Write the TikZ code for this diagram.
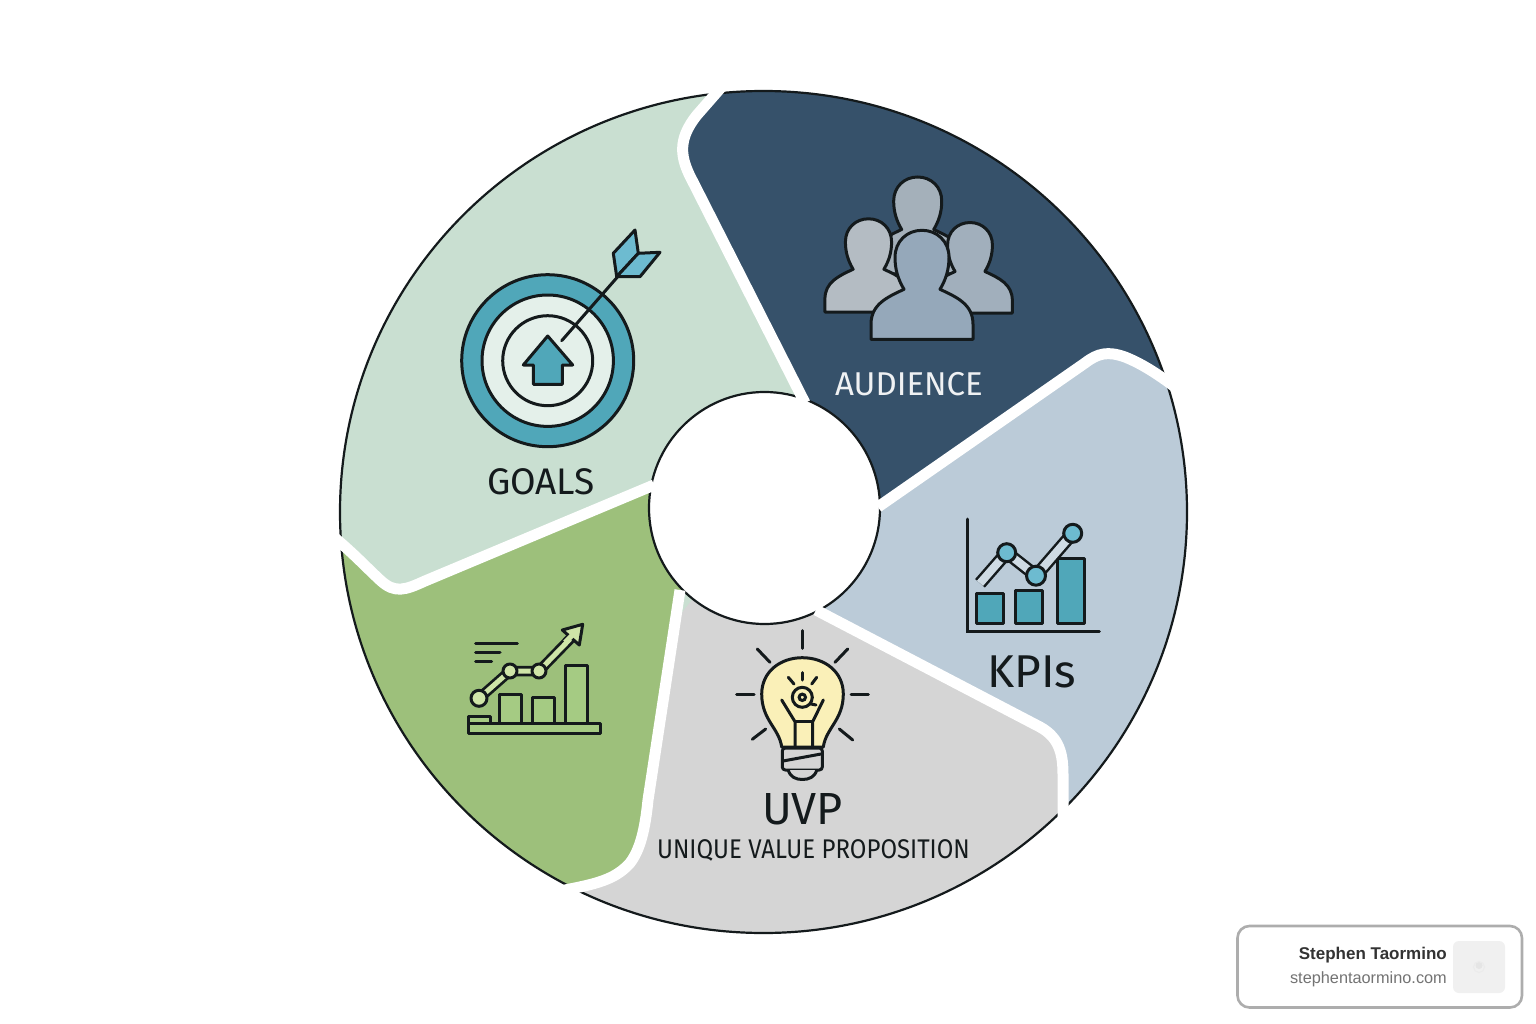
\documentclass[tikz,border=0pt]{standalone}
\usepackage{fontspec}
\setmainfont{Fira Sans}
\newfontfamily\cardfont{Liberation Sans}
\newfontfamily\narrowfont[FakeStretch=0.89]{Fira Sans}
\definecolor{goalsc}{HTML}{C9DFD1}
\definecolor{audc}{HTML}{36516A}
\definecolor{kpic}{HTML}{BBCBD8}
\definecolor{uvpc}{HTML}{D5D5D5}
\definecolor{greenc}{HTML}{9DC07B}
\definecolor{teal}{HTML}{50A7B9}
\definecolor{lteal}{HTML}{6DBBD0}
\definecolor{ink}{HTML}{141A1C}
\definecolor{paleg}{HTML}{E4F0EA}
\definecolor{bulbc}{HTML}{FAF0B8}
\definecolor{grnfill}{HTML}{A5CB83}
\definecolor{grnline}{HTML}{CFE5A8}
\definecolor{persona}{HTML}{A4B0BA}
\definecolor{personb}{HTML}{B4BCC3}
\definecolor{personc}{HTML}{A1AFBC}
\definecolor{persond}{HTML}{95A8BA}
\tikzset{
  icon/.style={draw=ink,line width=3pt,line join=round},
  iconline/.style={draw=ink,line width=3pt,line cap=round},
  sep/.style={draw=white,line width=11pt,line join=round},
  lab/.style={inner sep=0pt,text=ink,anchor=center},
}
\newcommand\SOne{(805,403) -- (693,182) .. controls (680,158) and (677,140) .. (697,115) -- (725,83)}
\newcommand\STwo{(878,507) -- (1085,363) .. controls (1098,353) and (1108,351) .. (1125,357) .. controls (1140,363) and (1155,372) .. (1175,387)}
\newcommand\SThree{(816,610) -- (1040,727) .. controls (1060,738) and (1063,755) .. (1063,775) -- (1063,820)}
\newcommand\SFour{(680,590) -- (648,800) .. controls (645,830) and (640,850) .. (630,863) .. controls (615,880) and (595,884) .. (565,890)}
\newcommand\SFive{(654,485) -- (425,581) .. controls (405,590) and (395,594) .. (380,580) .. controls (365,566) and (355,555) .. (335,538)}
\newcommand\peopleicon[4]{\draw[icon,fill=#4,shift={(#1,#2)},scale=#3]
  (-51,0) -- (-51,-15) .. controls (-51,-35) and (-35,-42) .. (-18,-50)
  .. controls (-24,-60) and (-27,-70) .. (-27,-82)
  .. controls (-27,-98) and (-15,-109) .. (0,-109)
  .. controls (15,-109) and (27,-98) .. (27,-82)
  .. controls (27,-70) and (24,-60) .. (18,-50)
  .. controls (35,-42) and (51,-35) .. (51,-15) -- (51,0) -- cycle;}
\begin{document}
\begin{tikzpicture}[x=1pt,y=-1pt]
\path[use as bounding box,fill=white] (0,0) rectangle (1536,1024);
% wheel
\begin{scope}
\clip (763.5,512) ellipse [x radius=423.5pt,y radius=421pt];
\fill[goalsc] (300,50) rectangle (1250,980);
\fill[audc] (764,508) -- \SOne -- (1300,80) -- (1300,560) -- cycle;
\fill[kpic] (764,508) -- \STwo -- (1400,400) -- (1400,1100) -- (900,1100) -- cycle;
\fill[uvpc] (764,508) -- \SThree -- (1063,1100) -- (300,1100) -- cycle;
\fill[greenc] (764,508) -- \SFour -- (300,1000) -- (200,600) -- (335,538)
  .. controls (355,555) and (365,566) .. (380,580)
  .. controls (395,594) and (405,590) .. (425,581) -- (654,485) -- cycle;
\end{scope}
\draw[ink,line width=2.2pt] (763.5,512) ellipse [x radius=423.5pt,y radius=421pt];
\draw[ink,line width=2.2pt,fill=white] (764.5,508) ellipse [x radius=115.5pt,y radius=116pt];
\draw[sep] \SOne;
\draw[sep] \STwo;
\draw[sep] \SThree;
\draw[sep] \SFour;
\draw[sep] \SFive;
% target
\draw[icon,fill=teal] (547.7,360.7) circle [radius=86pt];
\draw[icon,fill=paleg] (547.7,360.7) circle [radius=65.7pt];
\draw[icon,fill=paleg] (547.7,360.7) circle [radius=45pt];
\draw[icon,fill=teal] (547.7,336) -- (572.7,365) -- (562.3,365) -- (562.3,384.3) -- (533.3,384.3) -- (533.3,365) -- (523.3,365) -- cycle;
\draw[iconline] (561.7,340.7) -- (636.7,255);
\draw[icon,fill=lteal] (635,230) -- (638.3,253.3) -- (616.7,276.7) -- (613.3,253.3) -- cycle;
\draw[icon,fill=lteal] (660,252.3) -- (640,276.7) -- (616.7,276.7) -- (638.3,253.3) -- cycle;
% people
\peopleicon{917.7}{274}{0.89}{persona}
\peopleicon{868.5}{312}{0.855}{personb}
\peopleicon{970}{313}{0.83}{personc}
\peopleicon{922}{339.3}{1}{persond}
% KPI chart
\draw[iconline] (967.3,519) -- (967.3,631.7) -- (1099.3,631.7);
\draw[icon,fill=teal] (976,593.3) rectangle (1003.3,623.3);
\draw[icon,fill=teal] (1015.7,590.7) rectangle (1042.7,623.3);
\draw[icon,fill=teal] (1057.3,558.3) rectangle (1084.3,623.3);
\draw[draw=ink,line width=13pt,line join=round] (980,583.3) -- (1006.7,552.7) -- (1036,575.7) -- (1072.7,533.3);
\draw[draw=kpic!70!white,line width=8pt,line join=round] (980,583.3) -- (1006.7,552.7) -- (1036,575.7) -- (1072.7,533.3);
\draw[icon,fill=lteal] (1006.7,552.7) circle [radius=9pt];
\draw[icon,fill=lteal] (1036,575.7) circle [radius=9.5pt];
\draw[icon,fill=lteal] (1072.7,533.3) circle [radius=9pt];
% bulb
\draw[icon,fill=bulbc] (781.7,747) .. controls (779,728) and (761.7,720) .. (761.7,694)
  .. controls (761.7,672) and (780,657.7) .. (802.3,657.7)
  .. controls (825,657.7) and (843.3,672) .. (843.3,694)
  .. controls (843.3,720) and (826,728) .. (823.3,747) -- cycle;
\draw[iconline] (781.7,700) -- (795,721.7) -- (795,747);
\draw[iconline] (823.3,700) -- (812.7,721.7) -- (812.7,747);
\draw[iconline] (795,721.7) -- (812.7,721.7);
\draw[iconline,fill=bulbc] (802.3,697.3) circle [radius=10pt];
\draw[iconline] (802.3,697.3) circle [radius=3.2pt];
\draw[iconline] (811,704) -- (816,705);
\draw[iconline] (802.3,672.7) -- (802.3,680);
\draw[iconline] (788.3,677.3) -- (794,684);
\draw[iconline] (816.7,677.3) -- (811.7,684);
\draw[icon,fill=uvpc,rounded corners=3pt] (782.3,748) rectangle (822.3,770);
\draw[iconline] (783,761) -- (821,754);
\draw[icon,fill=uvpc] (788.3,770) .. controls (790,777) and (796,779.5) .. (802.3,779.5) .. controls (809,779.5) and (815,777) .. (816.7,770);
\draw[iconline] (802.3,630.7) -- (802.3,648.3);
\draw[iconline] (757.3,649) -- (770,662.3);
\draw[iconline] (847.7,649) -- (835,662.3);
\draw[iconline] (736.7,694) -- (754,694);
\draw[iconline] (851,694) -- (868.3,694);
\draw[iconline] (752.3,739.3) -- (765.7,729);
\draw[iconline] (852.7,740) -- (839.3,729);
% growth chart
\draw[iconline] (475.7,643.3) -- (517.3,643.3);
\draw[iconline] (475.7,652.3) -- (500,652.3);
\draw[iconline] (475.7,661.3) -- (491.7,661.3);
\draw[icon,fill=grnfill] (468.3,716.7) rectangle (490,723.3);
\draw[icon,fill=grnfill] (499.3,694) rectangle (521.7,723.3);
\draw[icon,fill=grnfill] (532.3,697.7) rectangle (554.3,723.3);
\draw[icon,fill=grnfill] (565.7,665) rectangle (587.7,723.3);
\draw[icon,fill=grnfill] (468.3,723.3) rectangle (600,733.3);
\draw[draw=ink,line width=10.5pt,line join=round] (479,698.3) -- (510,671) -- (539,671) -- (572,637);
\draw[draw=grnline,line width=5pt,line join=round] (479,698.3) -- (510,671) -- (539,671) -- (573,636);
\draw[icon,fill=grnline] (582.7,624.3) -- (562.3,630) -- (579.3,645) -- cycle;
\draw[draw=grnline,line width=5pt] (565,642.5) -- (572,635.5);
\draw[icon,fill=grnline] (479,698.3) circle [radius=8pt];
\draw[icon,fill=grnline] (510,671) circle [radius=7pt];
\draw[icon,fill=grnline] (539,671) circle [radius=7pt];
% labels
\node[lab] (goals) at (541,482) {\fontsize{37}{40}\selectfont GOALS};
\node[lab,text=white!92!audc] (audience) at (909,384) {\fontsize{33}{36}\selectfont AUDIENCE};
\node[lab] (kpis) at (1032,672) {\fontsize{46}{50}\selectfont KPIs};
\node[lab] (uvp) at (802.5,809) {\fontsize{45}{50}\selectfont UVP};
\node[lab] (uvpfull) at (813.5,850) {\narrowfont\fontsize{27}{30}\selectfont UNIQUE VALUE PROPOSITION};
% card
\draw[draw=black!32,line width=2.6pt,fill=white,rounded corners=12pt] (1237.5,926) rectangle (1522,1007.5);
\fill[fill=black!6,rounded corners=6pt] (1453,941) rectangle (1505,993);
\fill[fill=black!10] (1479,965.5) circle [radius=3.5pt];
\draw[draw=black!8,line width=1pt] (1479,967) circle [radius=5.5pt];
\node[inner sep=0pt,anchor=east,text=black!80] (cardname) at (1447,955) {\cardfont\bfseries\fontsize{17}{20}\selectfont Stephen Taormino};
\node[inner sep=0pt,anchor=east,text=black!55] (cardurl) at (1447,979) {\cardfont\fontsize{16.3}{20}\selectfont stephentaormino.com};
\end{tikzpicture}
\end{document}
